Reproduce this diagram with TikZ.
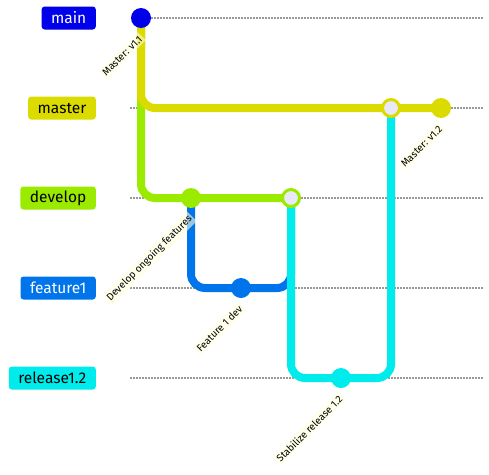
\documentclass[tikz,border=0pt]{standalone}
\usepackage{fontspec}
\setmainfont{Fira Sans}
\usetikzlibrary{positioning}

\definecolor{gitmain}{HTML}{0000EB}
\definecolor{gitmaster}{HTML}{DBDB00}
\definecolor{gitdevelop}{HTML}{9BEB00}
\definecolor{gitfeature}{HTML}{0075EB}
\definecolor{gitrelease}{HTML}{00EBEB}
\definecolor{tagfill}{HTML}{FFFFDE}
\definecolor{mergefill}{HTML}{E8E8F8}
\definecolor{lanegray}{HTML}{999999}

\pgfdeclarelayer{back}
\pgfsetlayers{back,main}

\begin{document}
\begin{tikzpicture}[x=1pt,y=-1pt]
    \tikzstyle{every node}=[font=\fontsize{15.5}{17}\selectfont];
    \tikzstyle{branchbox}=[rounded corners=3pt,minimum height=23pt,inner xsep=9.5pt,anchor=east];
    \tikzstyle{lane}=[draw=lanegray,line width=1.5pt,dash pattern=on 1.5pt off 1.5pt];
    \tikzstyle{commit}=[circle,minimum size=20pt,inner sep=0pt];
    \tikzstyle{merge}=[circle,minimum size=17pt,inner sep=0pt,line width=3pt,fill=mergefill];
    \tikzstyle{tag}=[fill=tagfill,fill opacity=0.6,text opacity=1,font=\fontsize{10}{11}\selectfont,inner sep=2pt,rotate=45,anchor=east];
    \tikzstyle{branch}=[line width=8pt,rounded corners=14pt];

    \useasboundingbox (0,0) rectangle (489,474);

    % branch names
    \node[branchbox,fill=gitmain,text=white] (lmain) at (96,18) {main};
    \node[branchbox,fill=gitmaster] (lmaster) at (96,108) {master};
    \node[branchbox,fill=gitdevelop] (ldevelop) at (96,198) {develop};
    \node[branchbox,fill=gitfeature,text=white] (lfeature) at (96,288) {feature1};
    \node[branchbox,fill=gitrelease] (lrelease) at (96,378) {release1.2};

    % commits
    \node[commit,fill=gitmain] (v11) at (141,18) {};
    \node[merge,draw=gitmaster] (mrel) at (391,108) {};
    \node[commit,fill=gitmaster] (v12) at (441,108) {};
    \node[commit,fill=gitdevelop] (devwork) at (191,198) {};
    \node[merge,draw=gitdevelop] (mfeat) at (291,198) {};
    \node[commit,fill=gitfeature] (featdev) at (241,288) {};
    \node[commit,fill=gitrelease] (relfix) at (341,378) {};

    % commit messages
    \node[tag] at ([xshift=1pt,yshift=-18pt]v11.center) {Master: v1.1};
    \node[tag] at ([xshift=1pt,yshift=-18pt]v12.center) {Master: v1.2};
    \node[tag] at ([xshift=1pt,yshift=-18pt]devwork.center) {Develop ongoing features};
    \node[tag] at ([xshift=1pt,yshift=-18pt]featdev.center) {Feature 1 dev};
    \node[tag] at ([xshift=1pt,yshift=-18pt]relfix.center) {Stabilize release 1.2};

    \begin{pgfonlayer}{back}
    % lanes
    \coordinate (mainR) at (484,18);
    \coordinate (masterL) at (130,108);
    \coordinate (masterR) at (484,108);
    \coordinate (developL) at (130,198);
    \coordinate (developR) at (484,198);
    \coordinate (featureL) at (130,288);
    \coordinate (featureR) at (484,288);
    \coordinate (releaseL) at (130,378);
    \coordinate (releaseR) at (484,378);
    \draw[lane] (v11) -- (mainR);
    \draw[lane] (masterL) -- (masterR);
    \draw[lane] (developL) -- (developR);
    \draw[lane] (featureL) -- (featureR);
    \draw[lane] (releaseL) -- (releaseR);

    % branches
    \draw[branch,gitdevelop] (v11.center) |- (devwork.center) -- (mfeat.center);
    \draw[branch,gitmaster] (v11.center) |- (mrel.center) -- (v12.center);
    \draw[branch,gitfeature] (devwork.center) |- (featdev.center) -| (mfeat.center);
    \draw[branch,gitrelease] (mfeat.center) |- (relfix.center) -| (mrel.center);
    \end{pgfonlayer}
\end{tikzpicture}
\end{document}
